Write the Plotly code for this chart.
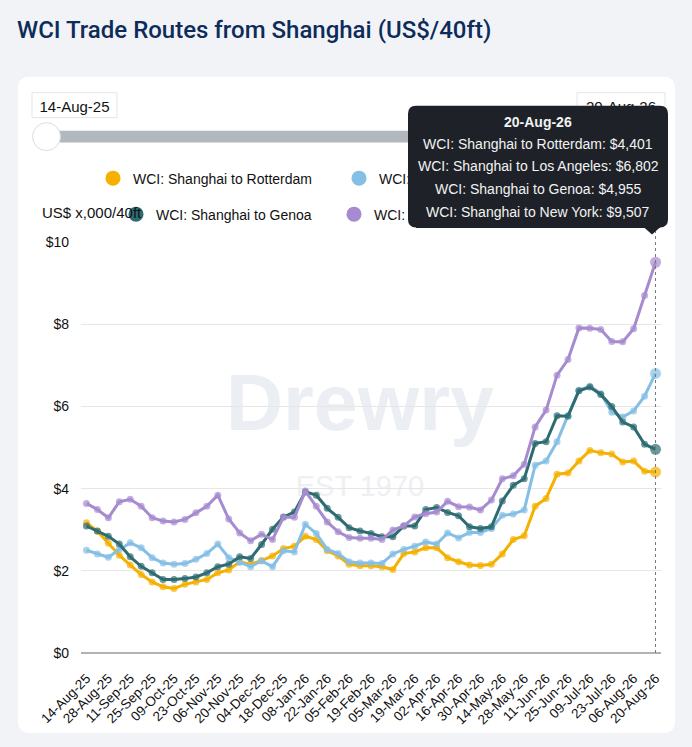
import plotly.graph_objects as go

dates = ["14-Aug-25", "21-Aug-25", "28-Aug-25", "04-Sep-25", "11-Sep-25", "18-Sep-25", "25-Sep-25",
         "02-Oct-25", "09-Oct-25", "16-Oct-25", "23-Oct-25", "30-Oct-25", "06-Nov-25", "13-Nov-25",
         "20-Nov-25", "27-Nov-25", "04-Dec-25", "11-Dec-25", "18-Dec-25", "01-Jan-26", "08-Jan-26",
         "15-Jan-26", "22-Jan-26", "29-Jan-26", "05-Feb-26", "12-Feb-26", "19-Feb-26", "26-Feb-26",
         "05-Mar-26", "12-Mar-26", "19-Mar-26", "26-Mar-26", "02-Apr-26", "09-Apr-26", "16-Apr-26",
         "23-Apr-26", "30-Apr-26", "07-May-26", "14-May-26", "21-May-26", "28-May-26", "04-Jun-26",
         "11-Jun-26", "18-Jun-26", "25-Jun-26", "02-Jul-26", "09-Jul-26", "16-Jul-26", "23-Jul-26",
         "30-Jul-26", "06-Aug-26", "13-Aug-26", "20-Aug-26"]

rotterdam = [3.17, 2.96, 2.67, 2.38, 2.14, 1.91, 1.73, 1.61, 1.57, 1.67, 1.73, 1.79, 1.95, 2.02,
             2.22, 2.16, 2.25, 2.36, 2.54, 2.60, 2.84, 2.76, 2.49, 2.36, 2.16, 2.12, 2.12, 2.10,
             2.03, 2.42, 2.46, 2.56, 2.56, 2.32, 2.22, 2.14, 2.13, 2.16, 2.41, 2.76, 2.85, 3.57,
             3.76, 4.35, 4.38, 4.67, 4.93, 4.87, 4.84, 4.65, 4.67, 4.42, 4.401]
los_angeles = [2.50, 2.41, 2.33, 2.52, 2.68, 2.56, 2.32, 2.19, 2.16, 2.18, 2.28, 2.42, 2.65, 2.32,
               2.20, 2.10, 2.24, 2.10, 2.49, 2.46, 3.13, 2.91, 2.52, 2.42, 2.22, 2.19, 2.19, 2.18,
               2.41, 2.52, 2.60, 2.70, 2.65, 2.92, 2.80, 2.93, 2.93, 3.03, 3.35, 3.38, 3.48, 4.57,
               4.67, 5.14, 5.78, 6.39, 6.49, 6.31, 5.86, 5.74, 5.89, 6.25, 6.802]
genoa = [3.09, 2.97, 2.84, 2.65, 2.34, 2.11, 1.95, 1.79, 1.79, 1.81, 1.85, 1.95, 2.10, 2.16,
         2.34, 2.30, 2.64, 3.01, 3.31, 3.43, 3.92, 3.84, 3.52, 3.30, 3.05, 2.97, 2.91, 2.83,
         2.83, 3.09, 3.09, 3.49, 3.54, 3.42, 3.34, 3.07, 3.03, 3.07, 3.70, 4.08, 4.24, 5.10,
         5.14, 5.77, 5.76, 6.38, 6.47, 6.29, 6.00, 5.62, 5.50, 5.08, 4.955]
new_york = [3.64, 3.49, 3.29, 3.68, 3.74, 3.57, 3.29, 3.21, 3.19, 3.25, 3.41, 3.57, 3.84, 3.26,
            2.92, 2.73, 2.89, 2.76, 3.30, 3.30, 3.94, 3.57, 3.19, 2.95, 2.81, 2.79, 2.79, 2.76,
            2.99, 3.09, 3.31, 3.39, 3.43, 3.69, 3.56, 3.55, 3.48, 3.72, 4.24, 4.31, 4.59, 5.50,
            5.91, 6.76, 7.14, 7.91, 7.90, 7.87, 7.58, 7.57, 7.89, 8.70, 9.507]

series_names = ["WCI: Shanghai to Rotterdam", "WCI: Shanghai to Los Angeles",
                "WCI: Shanghai to Genoa", "WCI: Shanghai to New York"]
series_values = [rotterdam, los_angeles, genoa, new_york]
series_colors = ["#F5B000", "#86BFE5", "#2E6C72", "#A78BD0"]
legend_ids = ["legend", "legend2", "legend3", "legend4"]

y_ticks = [0, 2, 4, 6, 8, 10]
y_tick_labels = ["$0", "$2", "$4", "$6", "$8", "$10"]

W, H = 692, 747
L, R, T, B = 81, 661, 241.5, 653


def px(x):
    return (x - L) / (R - L)


def py(y):
    return (B - y) / (B - T)


def rrect(x0, y0, x1, y1, r):
    a, b, c, d = px(x0), px(x1), py(y0), py(y1)
    rx = r / (R - L)
    ry = r / (B - T)
    return (f"M {a+rx},{c} L {b-rx},{c} Q {b},{c} {b},{c-ry} L {b},{d+ry} Q {b},{d} {b-rx},{d} "
            f"L {a+rx},{d} Q {a},{d} {a},{d+ry} L {a},{c-ry} Q {a},{c} {a+rx},{c} Z")


FONT = "Liberation Sans, Arial, sans-serif"
TIP_BG = "#1E2228"

fig = go.Figure()

n = len(dates)
for name, vals, col, lg in zip(series_names, series_values, series_colors, legend_ids):
    sizes = [7] * (n - 1) + [11]
    fig.add_trace(go.Scatter(
        x=dates, y=vals, name=name, mode="lines+markers",
        line=dict(color=col, width=3),
        marker=dict(color=col, size=sizes, line=dict(width=0)),
        showlegend=False, cliponaxis=False, hoverinfo="skip"))
    fig.add_trace(go.Scatter(
        x=[None], y=[None], name=name, mode="markers",
        marker=dict(color=col, size=15), showlegend=True, legend=lg))

shapes = []
# card
shapes.append(dict(type="path", xref="paper", yref="paper", path=rrect(18, 76, 675, 733, 12),
                   fillcolor="white", line=dict(width=0), layer="below"))
# watermark
shapes.append(dict(type="rect", xref="paper", yref="paper", x0=px(200), x1=px(520), y0=py(430), y1=py(360),
                   line=dict(width=0), fillcolor="rgba(0,0,0,0)", layer="below",
                   label=dict(text="Drewry", textposition="middle center",
                              font=dict(family=FONT, size=79, color="#EBEEF2", weight="bold"))))
shapes.append(dict(type="rect", xref="paper", yref="paper", x0=px(260), x1=px(460), y0=py(498), y1=py(468),
                   line=dict(width=0), fillcolor="rgba(0,0,0,0)", layer="below",
                   label=dict(text="EST 1970", textposition="middle center",
                              font=dict(family=FONT, size=29, color="#EEF0F3"))))
# slider track & handle
shapes.append(dict(type="path", xref="paper", yref="paper", path=rrect(45, 130, 656, 142, 2),
                   fillcolor="#B1B8BE", line=dict(width=0)))
shapes.append(dict(type="circle", xref="paper", yref="paper", x0=px(32.5), x1=px(60.5), y0=py(150), y1=py(122),
                   fillcolor="white", line=dict(color="#DADCDF", width=1)))
# date boxes
for x0, x1, lab in [(32, 117, dates[0]), (577, 665, dates[-1])]:
    shapes.append(dict(type="rect", xref="paper", yref="paper", x0=px(x0), x1=px(x1), y0=py(117), y1=py(92),
                       fillcolor="white", line=dict(color="#E4E5E8", width=1),
                       label=dict(text=lab, textposition="middle center",
                                  font=dict(family=FONT, size=15, color="#111111"))))
# hover line
shapes.append(dict(type="line", xref="x", yref="paper", x0=dates[-1], x1=dates[-1], y0=0, y1=py(230),
                   line=dict(color="#777777", width=1, dash="dot")))
# tooltip rounded box and pointer
shapes.append(dict(type="path", xref="paper", yref="paper", path=rrect(408, 105, 668, 227, 8),
                   fillcolor=TIP_BG, line=dict(width=0)))
shapes.append(dict(type="path", xref="paper", yref="paper",
                   path=f"M {px(643)},{py(226)} L {px(652)},{py(234)} L {px(661)},{py(226)} Z",
                   fillcolor=TIP_BG, line=dict(width=0)))

annotations = []
annotations.append(dict(xref="paper", yref="paper", x=px(40), y=py(212), xanchor="left", yanchor="middle",
                        text="US$ x,000/40ft", showarrow=False,
                        font=dict(family=FONT, size=15, color="#111111")))
tip_x = px(538)
# tooltip box covers (above legends), inset so the rounded corners stay visible
for w, h in [(244, 122), (260, 106)]:
    annotations.append(dict(xref="paper", yref="paper", x=tip_x, y=py(166), xanchor="center", yanchor="middle",
                            text=" ", showarrow=False, width=w, height=h, bgcolor=TIP_BG,
                            borderpad=0, borderwidth=0, font=dict(size=2)))
annotations.append(dict(xref="paper", yref="paper", x=tip_x, y=py(121), xanchor="center", yanchor="middle",
                        text=f"<b>{dates[-1]}</b>", showarrow=False,
                        font=dict(family=FONT, size=14, color="#F2F2F2")))
for i, (name, vals) in enumerate(zip(series_names, series_values)):
    annotations.append(dict(xref="paper", yref="paper", x=tip_x, y=py(143 + i * 22.7),
                            xanchor="center", yanchor="middle",
                            text=f"{name}: ${vals[-1] * 1000:,.0f}", showarrow=False,
                            font=dict(family=FONT, size=14, color="#F2F2F2")))

legend_font = dict(family=FONT, size=14, color="#111111")


def leg(dot_x, dot_y):
    return dict(orientation="h", x=px(dot_x - 20), y=py(dot_y), xanchor="left", yanchor="middle",
                bgcolor="rgba(0,0,0,0)", font=legend_font, itemclick=False, itemdoubleclick=False)


fig.update_layout(
    width=W, height=H,
    margin=dict(l=L, r=W - R, t=T, b=H - B, pad=0),
    paper_bgcolor="#F2F3F7", plot_bgcolor="rgba(0,0,0,0)",
    font=dict(family=FONT, color="#111111"),
    title=dict(text="WCI Trade Routes from Shanghai (US$/40ft)", x=17 / W, y=1 - 30 / H,
               xanchor="left", yanchor="middle", xref="container", yref="container",
               font=dict(family="Roboto, sans-serif", size=24, color="#0D2C5A", weight=500)),
    xaxis=dict(type="category", range=[-0.5, n - 0.5], tickmode="array", tickvals=dates[::2],
               ticktext=dates[::2], tickangle=-45, showgrid=False, showline=False, zeroline=False,
               ticks="", tickfont=dict(family=FONT, size=13.5, color="#111111"), ticklabelstandoff=14),
    yaxis=dict(range=[0, 10], tickmode="array", tickvals=y_ticks, ticktext=y_tick_labels,
               showgrid=True, gridcolor="#E6E6E6",
               gridwidth=1, zeroline=True, zerolinecolor="#B3B3B3", zerolinewidth=1.5, showline=False,
               ticks="", tickfont=dict(family=FONT, size=14, color="#111111"), ticklabelstandoff=11),
    legend=leg(113, 178),
    legend2=leg(359, 178),
    legend3=leg(136, 214),
    legend4=leg(354, 214),
    shapes=shapes, annotations=annotations,
    hovermode=False,
)

fig.write_html("out.html", config={"displayModeBar": False},
               post_script="document.body.style.margin='0px';")
